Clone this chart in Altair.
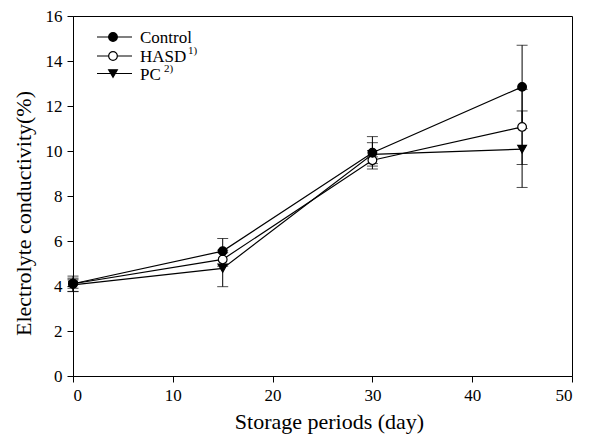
import altair as alt
import pandas as pd

# Storage day and measured electrolyte conductivity (%) per treatment
days = [0, 15, 30, 45]
control = [4.10, 5.55, 9.92, 12.85]
control_err = [0.34, 0.56, 0.72, 1.85]
hasd = [4.10, 5.18, 9.59, 11.07]
hasd_err = [0.20, 0.30, 0.15, 1.67]
pc = [4.05, 4.78, 9.85, 10.08]
pc_err = [0.30, 0.81, 0.52, 1.70]

series_names = ["Control", "HASD", "PC"]
series_sup = ["", "1)", "2)"]
shapes = ["circle", "circle", "triangle-down"]
fills = ["black", "white", "black"]

FONT = "Liberation Serif"
LEG_FONT = "Times New Roman, Liberation Serif, serif"

rows = []
for name, vals, errs, rank in [("PC", pc, pc_err, 0), ("HASD", hasd, hasd_err, 1),
                               ("Control", control, control_err, 2)]:
    for d, v, e in zip(days, vals, errs):
        rows.append({"day": d, "value": v, "lo": v - e, "hi": v + e,
                     "series": name, "rank": rank})
df = pd.DataFrame(rows)

x_scale = alt.Scale(domain=[0, 50], nice=False)
y_scale = alt.Scale(domain=[0, 16], nice=False)

x_axis = alt.Axis(values=[0, 10, 20, 30, 40, 50], title="Storage periods (day)",
                  titleBaseline="alphabetic", titleAlign="center",
                  titleX=256, titleY=52, labelFont=FONT, labelFontSize=17)
y_axis = alt.Axis(values=list(range(0, 17, 2)), title="Electrolyte conductivity(%)",
                  titleBaseline="middle", titleAlign="center", titleAngle=-90,
                  titleX=-50, titleY=197, labelFont=FONT, labelFontSize=17)

base = alt.Chart(df)

errbars = base.mark_errorbar(ticks=alt.MarkConfig(size=11), color="black",
                             thickness=1).encode(
    x=alt.X("day:Q", scale=x_scale, axis=x_axis),
    y=alt.Y("lo:Q", scale=y_scale, axis=y_axis),
    y2="hi:Q",
    detail="series:N",
)

lines = base.mark_line(color="black", strokeWidth=1.2).encode(
    x=alt.X("day:Q", scale=x_scale, axis=x_axis),
    y=alt.Y("value:Q", scale=y_scale, axis=y_axis),
    detail="series:N",
)

points = base.mark_point(size=75, opacity=1, stroke="black", strokeWidth=1.2).encode(
    x=alt.X("day:Q", scale=x_scale, axis=x_axis),
    y=alt.Y("value:Q", scale=y_scale, axis=y_axis),
    shape=alt.Shape("series:N", scale=alt.Scale(domain=series_names, range=shapes),
                    legend=None),
    fill=alt.Fill("series:N", scale=alt.Scale(domain=series_names, range=fills),
                  legend=None),
    order=alt.Order("rank:Q"),
)

# Hand-placed legend in the upper-left corner of the plot
legend_layers = []
row_y = [21, 40, 57.5]
sup_x = [0, 115, 91]
for i, name in enumerate(series_names):
    one = pd.DataFrame({"label": [name], "sup": [series_sup[i]]})
    c = alt.Chart(one)
    legend_layers.append(c.mark_rule(color="black", strokeWidth=1.2).encode(
        x=alt.value(24), x2=alt.value(59), y=alt.value(row_y[i])))
    legend_layers.append(c.mark_point(size=75, opacity=1, shape=shapes[i],
                                      fill=fills[i], stroke="black",
                                      strokeWidth=1.2).encode(
        x=alt.value(40), y=alt.value(row_y[i])))
    legend_layers.append(c.mark_text(align="left", baseline="middle",
                                     font=LEG_FONT, fontSize=17,
                                     color="black").encode(
        x=alt.value(67), y=alt.value(row_y[i] + 1), text="label:N"))
    if series_sup[i]:
        legend_layers.append(c.mark_text(align="left", baseline="middle",
                                         font=LEG_FONT, fontSize=11,
                                         color="black").encode(
            x=alt.value(sup_x[i]), y=alt.value(row_y[i] - 5), text="sup:N"))

chart = alt.layer(errbars, lines, points, *legend_layers).properties(
    width=499, height=360,
    autosize=alt.AutoSizeParams(type="none"),
    padding={"left": 73, "top": 16, "right": 17, "bottom": 58},
).configure(
    background="white"
).configure_view(
    stroke="black", strokeWidth=1
).configure_axis(
    grid=False, tickSize=6, labelPadding=5,
    titleFont=FONT, titleFontSize=22, titleFontWeight="normal",
    domainColor="black", tickColor="black", labelColor="black", titleColor="black",
)

chart.save("out.html", embed_options={"renderer": "svg", "actions": False})
